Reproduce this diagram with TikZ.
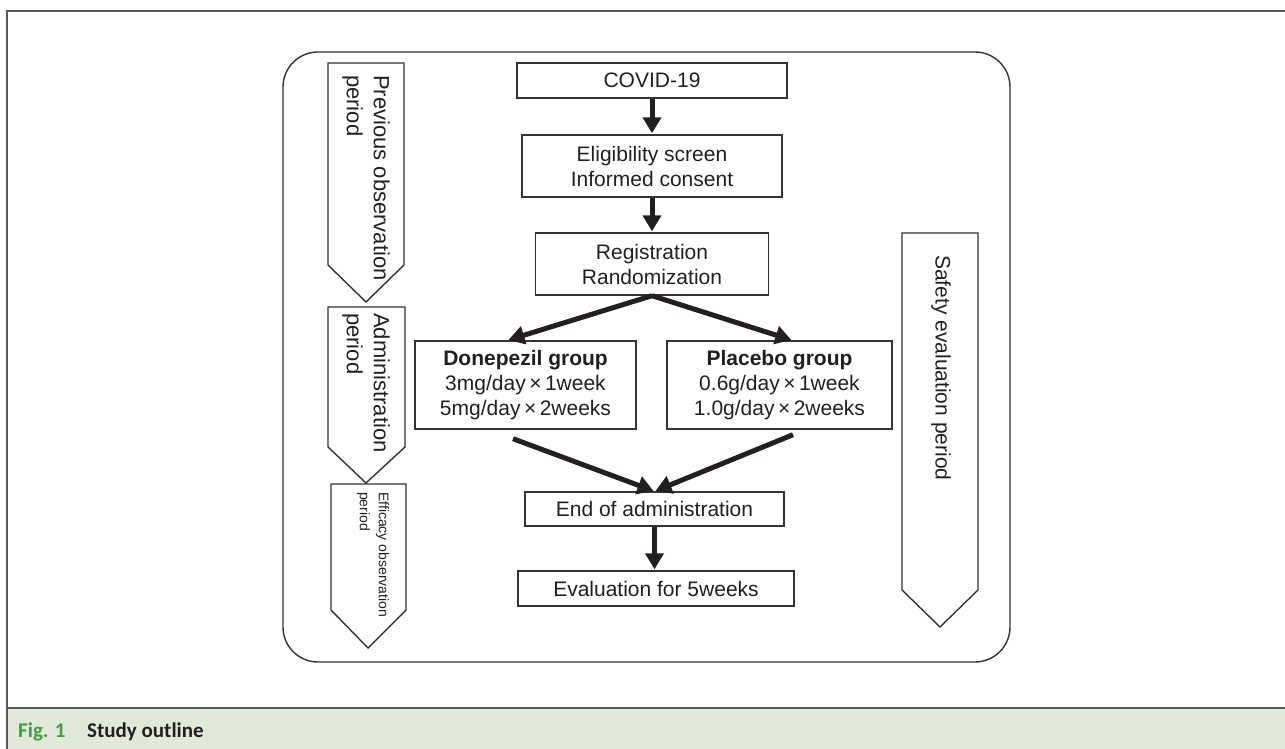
\documentclass[tikz,border=0pt]{standalone}
\usepackage{fontspec}
\setmainfont{Liberation Sans}
\newfontfamily\capfont{Carlito}
\usetikzlibrary{arrows.meta,calc}
\definecolor{ink}{HTML}{231F20}
\definecolor{edge}{HTML}{333333}
\definecolor{capbg}{HTML}{E1E9D9}
\definecolor{capgreen}{HTML}{4A9A45}
\begin{document}
\begin{tikzpicture}[x=1pt,y=-1pt,
  box/.style={draw=edge,line width=1.4pt,inner sep=0pt,align=center,text=ink,font=\fontsize{21}{25}\selectfont},
  flow/.style={draw=ink,line width=5pt,-{Triangle[width=18pt,length=16pt]},shorten >=1pt},
  phase/.style={draw=edge,line width=1.4pt,line join=miter},
  phasetxt/.style={rotate=-90,anchor=west,inner sep=0pt,align=left,text=ink,font=\fontsize{22}{27}\selectfont},
  frame/.style={draw=black!65,line width=1.2pt}]
\useasboundingbox (0,0) rectangle (1285,749);
% outer frame and caption
\fill[capbg] (7,708) rectangle (1285,749);
\draw[frame] (7,749) -- (7,11) -- (1285,11);
\draw[frame] (7,708) -- (1285,708);
\node[anchor=base west,inner sep=0pt,text=capgreen,font=\capfont\bfseries\fontsize{21}{25}\selectfont] (figlbl) at (18,737) {Fig. 1};
\node[anchor=base west,inner sep=0pt,text=ink,font=\capfont\bfseries\fontsize{21}{25}\selectfont] (figttl) at (87,737) {Study outline};

\draw[edge,line width=1.4pt,rounded corners=35pt] (283,52) rectangle (1010,662);

% periods
\path[phase] (328,63) -- (404,63) -- (404,265) -- (366,302) -- (328,265) -- cycle;
\path[phase] (328,307) -- (405,307) -- (405,447) -- (366,483) -- (328,447) -- cycle;
\path[phase] (331,484) -- (406,484) -- (406,610) -- (368,648) -- (331,610) -- cycle;
\path[phase] (902,233) -- (978,233) -- (978,590) -- (940,627) -- (902,590) -- cycle;
\node[phasetxt] (prev) at (366,75) {Previous observation\\period};
\node[phasetxt] (admin) at (366,313) {Administration\\period};
\node[phasetxt,font=\fontsize{14}{19}\selectfont] (effic) at (373,492) {Efficacy observation\\period};
\node[phasetxt,font=\fontsize{21}{25}\selectfont] (safety) at (941,255) {Safety evaluation period};

% flow
\node[box,minimum width=270pt,minimum height=35pt] (covid) at (652,80.5) {COVID-19};
\node[box,minimum width=260pt,minimum height=62pt] (elig) at (652,166) {Eligibility screen\\Informed consent};
\node[box,minimum width=233pt,minimum height=62pt] (reg) at (652,264) {Registration\\Randomization};
\node[box,minimum width=221pt,minimum height=88pt] (done) at (525.5,385) {\textbf{Donepezil group}\\3mg/day\,×\,1week\\5mg/day\,×\,2weeks};
\node[box,minimum width=225pt,minimum height=88pt] (plac) at (779.5,385) {\textbf{Placebo group}\\0.6g/day\,×\,1week\\1.0g/day\,×\,2weeks};
\node[box,minimum width=259pt,minimum height=34pt] (endadm) at (654.5,509) {End of administration};
\node[box,minimum width=276pt,minimum height=35pt] (evalw) at (656,588.5) {Evaluation for 5weeks};
\coordinate (dout) at ($(done.south)+(-12.5,9)$);
\coordinate (pout) at ($(plac.south)+(13.5,5)$);

\path[flow] (covid) -- (elig);
\path[flow] (elig) -- (reg);
\path[flow] (reg.south) -- (done.112);
\path[flow] (reg.south) -- (plac.74);
\path[flow] (dout) -- (endadm.north);
\path[flow] (pout) -- (endadm.north);
\path[flow] (endadm.south) -- (endadm.south |- evalw.north);
\end{tikzpicture}
\end{document}
